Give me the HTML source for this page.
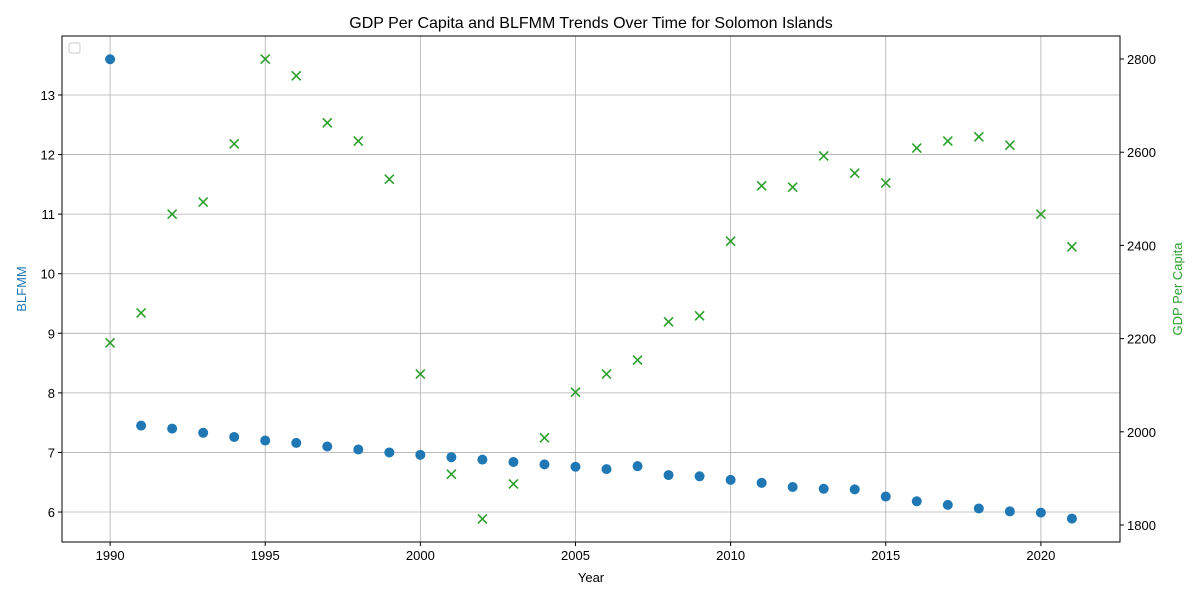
<!DOCTYPE html>
<html><head><meta charset="utf-8"><style>
body{margin:0;background:#fff;}
svg{font-family:"Liberation Sans","DejaVu Sans",sans-serif;}
</style></head><body>
<svg id="chart" width="1200" height="600">
<rect width="1200" height="600" fill="#fff"/>
<g id="grid"></g><g id="marks"></g><g id="axes"></g>
</svg>
<script>
const years = [1990,1991,1992,1993,1994,1995,1996,1997,1998,1999,2000,2001,2002,2003,2004,2005,2006,2007,2008,2009,2010,2011,2012,2013,2014,2015,2016,2017,2018,2019,2020,2021];
const blfmm = [13.6,7.45,7.4,7.33,7.26,7.2,7.16,7.1,7.05,7.0,6.96,6.92,6.88,6.84,6.8,6.76,6.72,6.77,6.62,6.6,6.54,6.49,6.42,6.39,6.38,6.26,6.18,6.12,6.06,6.01,5.99,5.89];
const gdp = [2191,2255,2467,2493,2618,2800,2764,2663,2624,2542,2124,1909,1813,1888,1987,2085,2124,2154,2236,2249,2409,2528,2525,2592,2555,2534,2609,2624,2633,2615,2467,2397];
const xTicks = [1990,1995,2000,2005,2010,2015,2020];
const yLeftTicks = [6,7,8,9,10,11,12,13];
const yRightTicks = [1800,2000,2200,2400,2600,2800];

const L=62,R=1120,T=36,B=542;
const x = v => L + (v-1988.45)/(2022.55-1988.45)*(R-L);
const yl = v => B - (v-5.497)/(13.99-5.497)*(B-T);
const yr = v => B - (v-1763.5)/(2849.4-1763.5)*(B-T);
const NS="http://www.w3.org/2000/svg";
function mk(parent,tag,attrs,text){const e=document.createElementNS(NS,tag);for(const k in attrs)e.setAttribute(k,attrs[k]);if(text!==undefined)e.textContent=text;document.getElementById(parent).appendChild(e);return e;}

xTicks.forEach(t=>{
  const g=mk('grid','line',{x1:x(t),x2:x(t),y1:T,y2:B,stroke:'#b0b0b0','stroke-width':0.8});
  
  
  mk('axes','line',{x1:x(t),x2:x(t),y1:B,y2:B+4,stroke:'#000'});
  const l=mk('axes','text',{x:x(t),y:B+18,'font-size':13,'text-anchor':'middle'},t);
  
  
});
yLeftTicks.forEach(t=>{
  const g=mk('grid','line',{x1:L,x2:R,y1:yl(t),y2:yl(t),stroke:'#b0b0b0','stroke-width':0.8});
  
  
  mk('axes','line',{x1:L-4,x2:L,y1:yl(t),y2:yl(t),stroke:'#000'});
  const l=mk('axes','text',{x:L-7,y:yl(t)+5,'font-size':13,'text-anchor':'end'},t);
  
  
});
yRightTicks.forEach(t=>{
  mk('axes','line',{x1:R,x2:R+4,y1:yr(t),y2:yr(t),stroke:'#000'});
  const l=mk('axes','text',{x:R+7,y:yr(t)+5,'font-size':13,'text-anchor':'start'},t);
  
  
});
years.forEach((yv,i)=>{
  const c=mk('marks','circle',{cx:x(yv),cy:yl(blfmm[i]),r:5,fill:'#1f77b4'});
  
  
  const cx=x(yv),cy=yr(gdp[i]),s=4.5;
  const p=mk('marks','path',{d:`M${cx-s},${cy-s}L${cx+s},${cy+s}M${cx-s},${cy+s}L${cx+s},${cy-s}`,stroke:'#2ca02c','stroke-width':1.6,fill:'none'});
  
  
});
</script>
<svg width="1200" height="600" style="position:absolute;left:0;top:0">
<rect x="62" y="36" width="1058" height="506" fill="none" stroke="#000" stroke-width="1"/>
<text x="591" y="28" font-size="16" text-anchor="middle" font-family="Liberation Sans, sans-serif">GDP Per Capita and BLFMM Trends Over Time for Solomon Islands</text>
<text x="591" y="582" font-size="13" text-anchor="middle" font-family="Liberation Sans, sans-serif">Year</text>
<text transform="translate(26,289) rotate(-90)" font-size="13" text-anchor="middle" fill="#1f77b4" font-family="Liberation Sans, sans-serif">BLFMM</text>
<text transform="translate(1182,289) rotate(-90)" font-size="13" text-anchor="middle" fill="#2ca02c" font-family="Liberation Sans, sans-serif">GDP Per Capita</text>
<rect x="69" y="43" width="11" height="10" rx="2" fill="#fff" stroke="#ccc"/>
</svg>
</body></html>
